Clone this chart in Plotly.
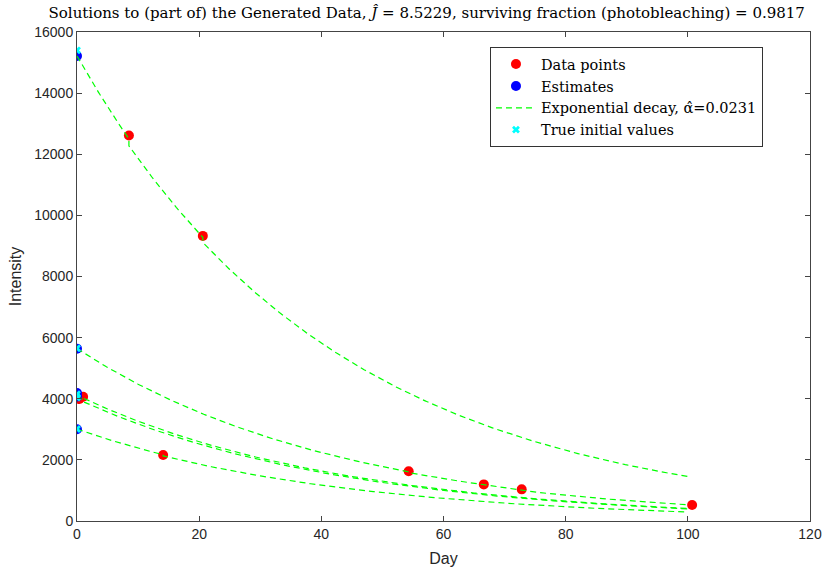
import numpy as np
import plotly.graph_objects as go

# ---- data ----
data_day = [8.5, 20.6, 54.3, 66.6, 72.8, 14.1, 0.4, 1.0, 100.7]
data_int = [12614, 9329, 1630, 1198, 1035, 2160, 3990, 4066, 522]

est_day = [0, 0, 0, 0, 0]
est_int = [15216, 5640, 4190, 4070, 3004]

true_day = [0, 0, 0, 0, 0]
true_int = [15400, 5650, 4150, 4040, 3010]

# measurement days belonging to each fitted curve (photobleaching steps)
curve_meas = [[8.5, 20.6], [54.3, 66.6, 72.8], [0.4], [1.0], [14.1]]
alpha_hat = 0.0231
surv_frac = 0.9817
t_end = 100

x_ticks = [0, 20, 40, 60, 80, 100, 120]
y_ticks = [0, 2000, 4000, 6000, 8000, 10000, 12000, 14000, 16000]

fig = go.Figure()

fig.add_trace(go.Scatter(x=data_day, y=data_int, mode="markers", name="Data points",
                         marker=dict(color="#ff0000", size=10, line=dict(width=0))))
fig.add_trace(go.Scatter(x=est_day, y=est_int, mode="markers", name="Estimates",
                         marker=dict(color="#0000ff", size=10, line=dict(width=0))))

# fitted exponential decay curves (model with estimated I0, alpha and photobleaching)
for i, (i0, meas) in enumerate(zip(est_int, curve_meas)):
    tt = np.linspace(0, t_end, 401)
    pts_t, pts_y = [], []
    allt = sorted(set(list(tt) + meas))
    for t in allt:
        n_before = sum(1 for m in meas if m < t)
        v = i0 * np.exp(-alpha_hat * t) * surv_frac ** n_before
        if t in meas:
            pts_t.append(t); pts_y.append(v)
            v = v * surv_frac
        pts_t.append(t); pts_y.append(v)
    fig.add_trace(go.Scatter(x=pts_t, y=pts_y, mode="lines",
                             name="Exponential decay, α̂=0.0231",
                             showlegend=(i == 0),
                             line=dict(color="#00ff00", width=1.2, dash="6px,4px")))

fig.add_trace(go.Scatter(x=true_day, y=true_int, mode="markers", name="True initial values",
                         marker=dict(color="#00ffff", size=7, symbol="x", line=dict(width=0))))

axis_common = dict(showline=True, linecolor="#444444", linewidth=1, mirror="ticks",
                   ticks="inside", ticklen=5, tickcolor="#444444", showgrid=False,
                   zeroline=False, automargin=False, tickformat="d",
                   tickfont=dict(family="Liberation Sans", size=14, color="#262626"),
                   title_font=dict(family="Liberation Sans", size=16, color="#262626"))

fig.update_layout(
    width=827, height=568,
    margin=dict(l=77, r=17, t=32, b=47),
    plot_bgcolor="white", paper_bgcolor="white",
    title=dict(text="Solutions to (part of) the Generated Data, <i>Ĵ</i> = 8.5229, surviving fraction (photobleaching) = 0.9817",
               x=0.516, xanchor="center", y=1 - 13 / 568, yanchor="middle",
               font=dict(family="DejaVu Serif", size=15.0, color="#000000")),
    xaxis=dict(range=[0, 120], tickvals=x_ticks, title=dict(text="Day", standoff=12), **axis_common),
    yaxis=dict(range=[0, 16000], tickvals=y_ticks, title=dict(text="Intensity", standoff=8), **axis_common),
    legend=dict(x=0.5634, y=0.969, xanchor="left", yanchor="top", itemwidth=40,
                bordercolor="#333333", borderwidth=1, bgcolor="white",
                font=dict(family="DejaVu Serif", size=14.5, color="#000000")),
    showlegend=True,
)

fig.write_html("out.html", config={"displayModeBar": False},
               post_script="document.body.style.margin='0';")
